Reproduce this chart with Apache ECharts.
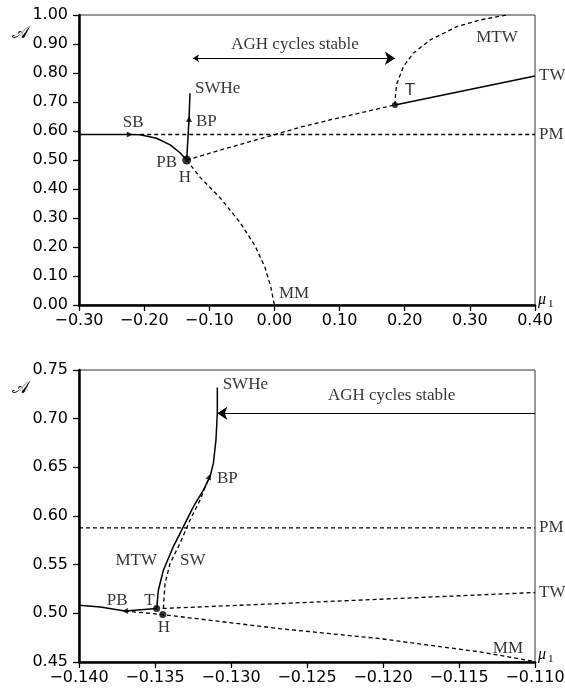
<!DOCTYPE html>
<html><head><meta charset="utf-8">
<script src="https://cdn.jsdelivr.net/npm/echarts@6/dist/echarts.min.js"></script>
<style>html,body{margin:0;padding:0;background:#fff}#c{width:565px;height:692px}</style>
</head><body><div id="c"></div>
<script>
// ---------- TOP PANEL DATA (mu1, A) ----------
const topStable   = [[-0.30,0.588],[-0.222,0.588],[-0.206,0.587],[-0.181,0.575],[-0.160,0.552],[-0.145,0.525],[-0.1347,0.500]];
const topPMDashed = [[-0.206,0.588],[0.40,0.588]];
const topSWHe     = [[-0.1347,0.500],[-0.1311,0.641],[-0.1296,0.730]];
const topMM       = [[-0.1347,0.500],[-0.114,0.440],[-0.0835,0.370],[-0.053,0.285],[-0.030,0.205],[-0.0145,0.130],[-0.0057,0.063],[0.0,0.0]];
const topTWDashed = [[-0.1347,0.500],[-0.0835,0.534],[-0.0017,0.586],[0.0393,0.613],[0.0853,0.638],[0.185,0.690]];
const topTWSolid  = [[0.185,0.690],[0.40,0.790]];
const topMTW      = [[0.185,0.690],[0.186,0.730],[0.188,0.764],[0.198,0.822],[0.213,0.868],[0.239,0.914],[0.280,0.960],[0.316,0.983],[0.357,1.0]];
const topArrow    = [[-0.125,0.851],[0.185,0.851]];
const topDotBig   = [[-0.1347,0.500]];
const topDotSmall = [[0.185,0.690]];
const topTriRight = [[-0.222,0.588]];
const topTriUp    = [[-0.1311,0.641]];
const topLabels   = [
  ['SB',[-0.217,0.628]],['SWHe',[-0.122,0.745]],['BP',[-0.1204,0.631]],['PB',[-0.1496,0.490]],
  ['H',[-0.1373,0.441]],['MM',[0.007,0.041]],['MTW',[0.3417,0.921]],['AGH cycles stable',[0.0316,0.897]],
  ['TW',[0.40,0.790]],['PM',[0.40,0.588]]
];
const topSansLabels = [['T',[0.208,0.741]]];

// ---------- BOTTOM PANEL DATA ----------
const botStable   = [[-0.140,0.5083],[-0.1386,0.5066],[-0.13697,0.5024],[-0.13489,0.5049]];
const botMTW      = [[-0.13489,0.5049],[-0.13478,0.5237],[-0.13445,0.5443],[-0.1338,0.5683],[-0.13314,0.5888],[-0.13248,0.6094],[-0.13182,0.6266],[-0.13138,0.6403],[-0.13116,0.654],[-0.13099,0.678],[-0.1309,0.7055],[-0.1309,0.732]];
const botSW       = [[-0.13445,0.5050],[-0.13434,0.5306],[-0.13401,0.5512],[-0.13336,0.5718],[-0.1327,0.5957],[-0.13204,0.6163],[-0.13143,0.6403]];
const botMM       = [[-0.13697,0.5024],[-0.13449,0.4987],[-0.1268,0.4843],[-0.1202,0.4740],[-0.1136,0.4603],[-0.110,0.4505]];
const botTW       = [[-0.13449,0.5050],[-0.1261,0.5105],[-0.110,0.5214]];
const botPM       = [[-0.140,0.5878],[-0.110,0.5878]];
const botArrow    = [[-0.110,0.7055],[-0.1309,0.7055]];
const botDots     = [[-0.13489,0.5049],[-0.13449,0.4987]];
const botTriLeft  = [[-0.13697,0.5024]];
const botTriUp    = [[-0.13143,0.6403]];
const botLabels   = [
  ['SWHe',[-0.13055,0.7353]],['BP',[-0.13092,0.6386]],['MTW',[-0.13487,0.5546]],['SW',[-0.13336,0.5546]],
  ['PB',[-0.1368,0.5134]],['T',[-0.13536,0.5134]],['H',[-0.13441,0.485]],['MM',[-0.11178,0.4638]],
  ['AGH cycles stable',[-0.11943,0.7236]],['PM',[-0.110,0.5878]],['TW',[-0.110,0.5214]]
];

// ---------- TICKS ----------
const topX = {min:-0.30, max:0.40, interval:0.10, dec:2};
const topY = {min:0.00, max:1.00, interval:0.10, dec:2};
const botX = {min:-0.140, max:-0.110, interval:0.005, dec:3};
const botY = {min:0.45, max:0.75, interval:0.05, dec:2};

// ---------- STYLE / BUILD ----------
const SERIF = "'Liberation Serif','Times New Roman',serif";
const SANS = "'DejaVu Sans',sans-serif";
const fmt = d => v => (Math.abs(v) < 1e-9 ? (0).toFixed(d) : (v < 0 ? '\u2212' : '') + Math.abs(v).toFixed(d));

function axis(cfg, idx, isX) {
  return {
    type:'value', gridIndex:idx, min:cfg.min, max:cfg.max, interval:cfg.interval,
    axisLine:{show:true, onZero:false, lineStyle:{color:'#000', width:2.5}},
    axisTick:{show:true, inside:false, length:6, lineStyle:{color:'#000', width:1.3}},
    splitLine:{show:false},
    axisLabel:{color:'#000', fontFamily:SANS, fontSize:16, margin:isX?8:11, formatter:fmt(cfg.dec)}
  };
}
function line(i, data, dashed, w) {
  return {type:'line', xAxisIndex:i, yAxisIndex:i, data:data, showSymbol:false, symbol:'none',
    silent:true, animation:false, z:3,
    lineStyle:{color:'#000', width:w || (dashed?1.3:1.5), type: dashed ? [4,3] : 'solid'}};
}
function marks(i, data, symbol, size, rot) {
  return {type:'scatter', xAxisIndex:i, yAxisIndex:i, data:data, symbol:symbol, symbolSize:size,
    symbolRotate:rot||0, itemStyle:{color:'#000'}, z:5, animation:false, silent:true};
}
function arrow(i, pts, both) {
  return {type:'lines', coordinateSystem:'cartesian2d', xAxisIndex:i, yAxisIndex:i,
    symbol: both ? ['arrow','arrow'] : ['none','arrow'], symbolSize:[6,10],
    lineStyle:{color:'#000', width:1, opacity:1, curveness:0}, animation:false, silent:true, z:4,
    data:[{coords:pts}]};
}
const alignOf = {
  'SB':'center','SWHe':'left','BP':'left','PB':'right','H':'center','MM':'left','MTW':'right',
  'AGH cycles stable':'center','TW':'left','PM':'left','T':'center','SW':'left'
};
function labels(i, list, family, overrides) {
  return {type:'scatter', xAxisIndex:i, yAxisIndex:i, symbolSize:0, silent:true, animation:false, z:6, clip:false,
    data:list.map(([t,p]) => {
      const al = (overrides && overrides[t]) || alignOf[t];
      const edge = (t==='TW'||t==='PM');
      return {name:t, value:p, label:{show:true, position:'inside', formatter:t, align:al, verticalAlign:'middle',
        offset:[edge?4:0,0], color:'#000', fontFamily:family, fontSize:17}};
    })};
}
function axisTitles(dy) {
  return [
    {type:'text', x:20, y:33+dy, style:{text:'𝒜', font:"18px 'DejaVu Serif', 'DejaVu Sans', serif", fill:'#000', align:'center', verticalAlign:'middle'}},
    {type:'text', x:538, y:300+dy, style:{text:'μ', font:"italic 16px 'Liberation Serif', serif", fill:'#000', verticalAlign:'middle'}},
    {type:'text', x:548, y:304.5+dy, style:{text:'1', font:"11px 'Liberation Serif', serif", fill:'#000', verticalAlign:'middle'}}
  ];
}

const option = {
  backgroundColor:'#fff',
  animation:false,
  grid:[
    {left:79, right:30, top:15, height:290, show:true, borderColor:'#333', borderWidth:1, containLabel:false, outerBoundsMode:'none'},
    {left:79, right:30, top:370, height:292, show:true, borderColor:'#333', borderWidth:1, containLabel:false, outerBoundsMode:'none'}
  ],
  xAxis:[axis(topX,0,true), axis(botX,1,true)],
  yAxis:[axis(topY,0,false), axis(botY,1,false)],
  graphic:[...axisTitles(0), ...axisTitles(355)],
  series:[
    line(0, topStable, false), line(0, topPMDashed, true), line(0, topSWHe, false),
    line(0, topMM, true), line(0, topTWDashed, true), line(0, topTWSolid, false), line(0, topMTW, true),
    arrow(0, topArrow, true),
    marks(0, topDotBig, 'circle', 9), marks(0, topDotSmall, 'circle', 6),
    marks(0, topTriRight, 'triangle', 6, -90), marks(0, topTriUp, 'triangle', 6, 0),
    labels(0, topLabels, SERIF, {'MTW':'center'}), labels(0, topSansLabels, "'Liberation Sans',sans-serif"),

    line(1, botStable, false), line(1, botMTW, false), line(1, botSW, true), line(1, botMM, true),
    line(1, botTW, true), line(1, botPM, true),
    arrow(1, botArrow, false),
    marks(1, botDots, 'circle', 7), marks(1, botTriLeft, 'triangle', 6, 90), marks(1, botTriUp, 'triangle', 6, -20),
    labels(1, botLabels, SERIF, {'MM':'center'})
  ]
};
const chart = echarts.init(document.getElementById('c'), null, {renderer:'canvas'});
chart.setOption(option);
</script>
</body></html>
